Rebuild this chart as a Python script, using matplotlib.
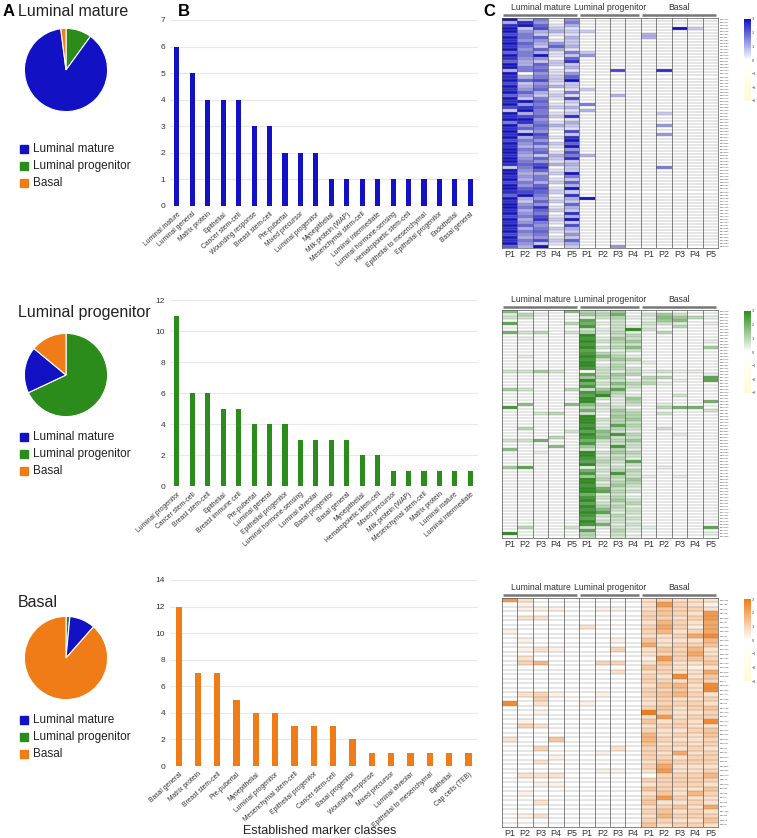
import numpy as np
import matplotlib.pyplot as plt
from matplotlib.colors import LinearSegmentedColormap

plt.rcParams['font.family'] = ['Liberation Sans', 'DejaVu Sans']

# ---- data ----
groups = ["Luminal mature", "Luminal progenitor", "Basal"]
pie_lm = [88, 10, 2]     # blue, green, orange (%)
pie_lp = [18, 68, 14]
pie_basal = [10, 1.5, 88.5]

bar_lm_labels = ["Luminal mature", "Luminal general", "Matrix protein", "Epithelial", "Cancer stem-cell",
                 "Wounding response", "Breast stem-cell", "Pre-pubertal", "Mixed precursor",
                 "Luminal progenitor", "Myoepithelial", "Milk protein (WAP)", "Mesenchymal stem-cell",
                 "Luminal intermediate", "Luminal hormone-sensing", "Hematopoietic stem-cell",
                 "Epithelial to mesenchymal", "Epithelial progenitor", "Endothelial", "Basal general"]
bar_lm_values = [6, 5, 4, 4, 4, 3, 3, 2, 2, 2, 1, 1, 1, 1, 1, 1, 1, 1, 1, 1]

bar_lp_labels = ["Luminal progenitor", "Cancer stem-cell", "Breast stem-cell", "Epithelial",
                 "Breast immune cell", "Pre-pubertal", "Luminal general", "Epithelial progenitor",
                 "Luminal hormone-sensing", "Luminal alveolar", "Basal progenitor", "Basal general",
                 "Myoepithelial", "Hematopoietic stem-cell", "Mixed precursor", "Milk protein (WAP)",
                 "Mesenchymal stem-cell", "Matrix protein", "Luminal mature", "Luminal intermediate"]
bar_lp_values = [11, 6, 6, 5, 5, 4, 4, 4, 3, 3, 3, 3, 2, 2, 1, 1, 1, 1, 1, 1]

bar_b_labels = ["Basal general", "Matrix protein", "Breast stem-cell", "Pre-pubertal", "Myoepithelial",
                "Luminal progenitor", "Mesenchymal stem-cell", "Epithelial progenitor", "Cancer stem-cell",
                "Basal progenitor", "Wounding response", "Mixed precursor", "Luminal alveolar",
                "Epithelial to mesenchymal", "Epithelial", "Cap cells (TEB)"]
bar_b_values = [12, 7, 7, 5, 4, 4, 3, 3, 3, 2, 1, 1, 1, 1, 1, 1]

col_labels = ["P1", "P2", "P3", "P4", "P5", "P1", "P2", "P3", "P4", "P1", "P2", "P3", "P4", "P5"]

# heatmap rows: 14 intensity levels 0-9 (LM P1-P5 | LP P1-P4 | Basal P1-P5)
hm_lm_rows = """
92504 0000 00000
38405 0000 00000
89613 0000 00000
92721 0000 00920
94332 2000 00000
75211 0000 30000
95603 0000 30000
84412 0000 00000
96342 0000 00000
85263 0000 00000
94631 0000 00000
65315 2000 00000
95912 4000 00000
84406 0000 00000
63228 0000 00000
93622 0000 00000
95503 0000 00000
35611 0070 08000
90414 0000 00000
83526 0000 00000
96729 0000 00000
72412 0000 00000
93532 0000 00000
84601 2000 00000
96315 0000 00000
64221 0030 00000
92517 0000 00000
89602 0000 00000
94511 5000 00000
78623 0000 00000
29501 3000 00000
93512 0000 02000
87628 0000 00000
99401 0000 00000
58513 0000 00000
94632 0000 04000
86511 0000 00000
92407 0000 00000
89702 0000 04000
93618 0000 00000
75409 0000 00000
94626 0000 00000
83319 0000 00000
95504 0000 00000
94617 0000 00000
83235 3000 00000
94628 0000 00000
95412 0000 00000
86733 0000 00000
25802 0000 05000
94612 0000 00000
93329 0000 00000
84505 0000 00000
93512 0000 00000
75326 0000 00000
94603 0000 00000
96719 0000 00000
87622 0000 00000
69508 0000 00000
93413 9000 00000
82622 0000 00000
94406 0000 00000
95813 0000 00000
83622 0000 00000
94508 0000 00000
75713 0000 00000
93829 0000 00000
84512 0000 00000
96407 0000 00000
83523 0000 00000
95612 0000 00000
74504 0000 00000
93412 0000 00000
85726 0000 00000
94213 0000 00000
63902 0040 00000
"""

hm_lp_rows = """
50005 3240 00000
13100 4360 24200
22000 1231 15431
00000 7020 14500
70003 6120 22101
00000 8021 10300
00000 2129 20000
62302 3131 03000
00000 9023 00000
01000 8142 00000
00000 9234 00001
00000 8022 00000
00000 9235 00004
00000 7012 00000
00000 8320 00000
01000 9531 00000
00000 8243 00000
00000 9021 10000
00000 9130 00000
00000 8232 00000
22420 0212 12110
00000 7243 00001
00000 4330 33007
00000 9121 20107
00000 6253 31000
00000 8132 00000
42003 2471 00000
00000 8630 00000
00000 7921 00200
00000 9214 00000
00000 9013 00006
05005 5212 01000
80000 3120 03660
00000 6142 00002
00230 2033 02000
00000 9043 00000
00000 9234 00000
00000 9132 00000
00000 8173 00000
03000 9232 02000
00002 7521 00000
00000 9483 00100
00030 8522 00000
22600 6234 00000
00000 8122 00000
00050 4182 00000
50000 2031 00000
00100 9243 00000
00000 9122 00000
00000 8231 00000
00000 7327 00000
00000 9212 00000
47000 1121 01000
00000 6233 00000
00000 8182 00000
00000 4232 10100
00000 9324 00000
00000 9133 00000
00000 8242 00000
00000 9621 00000
00000 9732 00000
00000 6120 00000
00000 8231 00000
00000 9142 00000
00000 7223 00000
00000 9331 00000
00000 8522 00000
00000 9712 00000
00000 8231 00000
00000 7122 00000
00000 9221 00000
00000 8612 00000
03002 2121 10007
00000 7031 00000
90000 3020 00001
00000 3021 00000
"""

hm_b_rows = """
72000 0000 23222
01000 0000 27321
01110 0110 24332
00000 0000 34327
02200 0000 33237
00000 0000 25326
00000 2000 36316
10000 0000 35236
00000 0000 22368
01000 0010 42225
00000 0000 62334
01210 0030 24352
00000 0000 23362
02000 0000 17343
03500 0330 24224
00000 0000 43212
00000 0020 23226
00000 0000 32824
00000 0000 33233
00000 0000 24528
00000 0000 33428
02310 0100 34532
00300 0000 23223
80200 1000 23332
00000 0000 34234
00100 0000 93223
00000 0000 27233
01000 0000 42328
03200 0000 23322
00000 0000 32234
00000 0000 52324
20040 0000 53223
00000 0000 42323
00300 0020 33232
00000 0100 32623
00010 0000 33233
00200 0000 24333
00000 0000 36222
00000 0110 27223
02220 0000 03335
00000 0000 33333
00110 0000 23332
00000 0000 43224
01000 0000 24253
00000 0000 37322
00200 0000 42232
00000 0000 23426
00000 0000 34232
01200 0000 25333
00000 0000 33224
00000 0000 42332
"""

hm_lm_genes = """DN10922 DN11657 DN11841 DN12046 DN12338 DN12654 DN13007 DN13262 DN13515 DN13890
DN14102 DN14477 DN14730 DN15058 DN15391 DN15684 DN15920 DN16213 DN16547 DN16802 DN17136 DN17455
DN17781 DN18042 DN18369 DN18705 DN19013 DN19346 DN19672 DN19988 DN20314 DN20651 DN20977 DN21280
DN21609 DN21935 DN22258 DN22583 DN22910 DN23244 DN23571 DN23896 DN24220 DN24553 DN24878 DN25201
DN25532 DN25860 DN26187 DN26513 DN26842 DN27170 DN27498 DN27826 DN28153 DN28480 DN28807 DN29134
DN29461 DN29788 DN30115 DN30442 DN30769 DN31096 DN31423 DN31750 DN32077 DN32404 DN32731 DN33058
DN33385 DN33712 DN34039 DN34366 DN34693 DN35020""".split()

hm_lp_genes = """DN10058 DN10389 DN10713 DN11037 DN11361 DN11685 DN12009 DN12333 DN12657 DN12981
DN13305 DN13629 DN13953 DN14277 DN14601 DN14925 DN15249 DN15573 DN15897 DN16221 DN16545 DN16869
DN17193 DN17517 DN17841 DN18165 DN18489 DN18813 DN19137 DN19461 DN19785 DN20109 DN20433 DN20757
DN21081 DN21405 DN21729 DN22053 DN22377 DN22701 DN23025 DN23349 DN23673 DN23997 DN24321 DN24645
DN24969 DN25293 DN25617 DN25941 DN26265 DN26589 DN26913 DN27237 DN27561 DN27885 DN28209 DN28533
DN28857 DN29181 DN29505 DN29829 DN30153 DN30477 DN30801 DN31125 DN31449 DN31773 DN32097 DN32421
DN32745 DN33069 DN33393 DN33717 DN34041 DN34365""".split()

hm_b_genes = """DN11938 DN1798 DN1951 DN1953 DN12108 DN1313 DN13306 DN19636 DN1929 DN19728 DN19178
DN30664 DN35796 DN31003 DN31730 DN32938 DN33202 DN35098 DN376 DN38790 DN39930 DN37777 DN39808
DN3940 DN40780 DN40733 DN4237 DN47014 DN5622 DN52630 DN53710 DN58054 DN52211 DN5906 DN5935
DN60274 DN6565 DN64808 DN65990 DN66073 DN6713 DN69078 DN7090 DN7156 DN718 DN7225 DN762
DN81666 DN9439 DN9508 DN9627""".split()


def parse_rows(txt):
    rows = [r.replace(" ", "") for r in txt.strip().splitlines()]
    return np.array([[int(c) for c in r] for r in rows], dtype=float)


BLUE = "#1212c4"
GREEN = "#2b8c1c"
ORANGE = "#f07c18"

W, H = 757, 838
fig = plt.figure(figsize=(W / 100, H / 100), dpi=100)


def fx(px):
    return px / W


def fy(py):
    return 1 - py / H


def box(x0, y0, x1, y1):
    return [fx(x0), fy(y1), fx(x1 - x0), (y1 - y0) / H]


# ---- panel A: pies ----
pies = [(pie_lm, 12, 70, 149), (pie_lp, 313, 375, 437), (pie_basal, 602, 658, 720)]
for i, (vals, ty, cy, ly) in enumerate(pies):
    fig.text(fx(18), fy(ty), groups[i], fontsize=11.5, va="center", ha="left", color="#222")
    ax = fig.add_axes(box(14, cy - 52, 118, cy + 52))
    # clockwise from the top: green, blue, orange
    ax.pie([vals[1], vals[0], vals[2]], colors=[GREEN, BLUE, ORANGE], startangle=90,
           counterclock=False, wedgeprops=dict(edgecolor="white", linewidth=0.8))
    ax.set_aspect("equal")
    for k, (name, c) in enumerate(zip(groups, [BLUE, GREEN, ORANGE])):
        yy = ly + k * 17
        fig.patches.append(plt.Rectangle((fx(20), fy(yy + 4)), fx(8), 8 / H, color=c,
                                         transform=fig.transFigure))
        fig.text(fx(33), fy(yy), name, fontsize=8.5, va="center", ha="left", color="#222")

fig.text(fx(3), fy(12), "A", fontsize=12, fontweight="bold", va="center")
fig.text(fx(178), fy(12), "B", fontsize=12, fontweight="bold", va="center")
fig.text(fx(483), fy(12), "C", fontsize=12, fontweight="bold", va="center")

# ---- panel B: bars ----
bars = [(bar_lm_labels, bar_lm_values, BLUE, 20, 206, 7, 1),
        (bar_lp_labels, bar_lp_values, GREEN, 300, 486, 12, 2),
        (bar_b_labels, bar_b_values, ORANGE, 580, 766, 14, 2)]
for labels, vals, c, top, bot, ymax, step in bars:
    ax = fig.add_axes(box(170, top, 478, bot))
    x = np.arange(len(vals))
    ax.bar(x, vals, width=0.33, color=c, zorder=3)
    ax.set_xlim(-0.45, len(vals) - 0.5)
    ax.set_ylim(0, ymax)
    ax.set_yticks(np.arange(0, ymax + 1, step))
    ax.yaxis.grid(True, color="#e8e8e8", linewidth=0.8)
    for s in ax.spines.values():
        s.set_visible(False)
    ax.tick_params(axis="both", length=0, labelsize=6, colors="#333")
    ax.set_xticks(x)
    ax.set_xticklabels(labels, rotation=42, ha="right", rotation_mode="anchor", fontsize=4.9)
fig.text(fx(320), fy(831), "Established marker classes", fontsize=9, ha="center", va="center",
         color="#222")

# ---- panel C: heatmaps ----
heat = [(hm_lm_rows, hm_lm_genes, BLUE, 18, 248),
        (hm_lp_rows, hm_lp_genes, GREEN, 310, 538),
        (hm_b_rows, hm_b_genes, ORANGE, 598, 827)]
spans = [(0, 5), (5, 9), (9, 14)]
for rows, genes, c, top, bot in heat:
    data = parse_rows(rows)
    vals = 3 * data / 9
    n = len(vals)
    cmap = LinearSegmentedColormap.from_list("m", [(0, "#fcfbd6"), (0.5, "#ffffff"), (1, c)])
    ax = fig.add_axes(box(502, top, 718, bot))
    mesh = ax.pcolormesh(vals, cmap=cmap, vmin=-3, vmax=3, edgecolors="none")
    ax.hlines(np.arange(1, n), 0, 14, color="#8a8a8a", lw=0.3)
    ax.vlines(np.arange(1, 14), 0, n, color="#555", lw=0.5)
    ax.set_xlim(0, 14)
    ax.set_ylim(n, 0)
    ax.set_xticks(np.arange(14) + 0.5)
    ax.set_xticklabels(col_labels, fontsize=6.5, color="#333")
    ax.set_yticks(np.arange(n) + 0.5)
    ax.set_yticklabels(genes[:n], fontsize=1.6, color="#444")
    ax.yaxis.tick_right()
    ax.tick_params(length=0, pad=1.5)
    for s in ax.spines.values():
        s.set_color("#555")
        s.set_linewidth(0.5)
    # group headers: line 3 px above the grid, label above it
    ly = -3 * n / (bot - top)
    for (a, b), g in zip(spans, groups):
        ax.plot([a + 0.05, b - 0.15], [ly, ly], color="#777", lw=1.8, clip_on=False,
                solid_capstyle="butt")
        ax.text((a + b) / 2, ly * 2.0, g, fontsize=6.2, ha="center", va="bottom", color="#333")
    cax = fig.add_axes(box(744, top + 1, 751, top + 83))
    cb = fig.colorbar(mesh, cax=cax, ticks=[-3, -2, -1, 0, 1, 2, 3])
    cb.outline.set_visible(False)
    cb.ax.tick_params(labelsize=2.8, length=0, pad=0.8, colors="#444")

fig.savefig("out.png", dpi=100)
